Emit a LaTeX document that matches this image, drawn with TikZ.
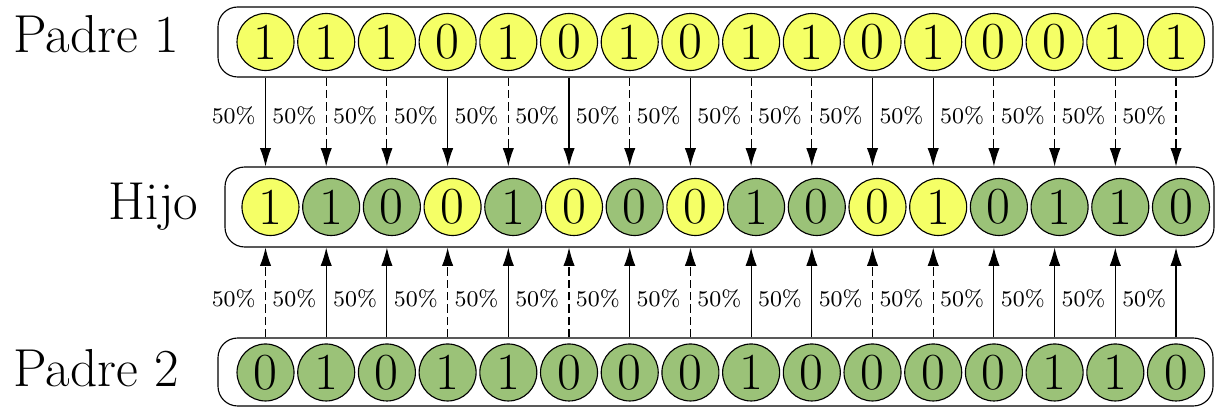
\documentclass[tikz,border=0pt]{standalone}
\usepackage{tikz}
\usetikzlibrary{arrows.meta, positioning}
\definecolor{genyellow}{RGB}{245,255,102}
\definecolor{gengreen}{RGB}{155,194,120}
\tikzset{
    rowbox/.style={rectangle, rounded corners=7pt, draw=black, minimum width=12.4375cm, inner sep=0pt},
    gene/.style={circle, draw=black, minimum size=0.7125cm, inner sep=0pt, font=\fontsize{18.5}{22}\selectfont},
    geneA/.style={gene, fill=genyellow},
    geneB/.style={gene, fill=gengreen},
    rowlabel/.style={anchor=base east, font=\fontsize{19}{23}\selectfont},
    arrow/.style={->, >={Latex[length=6.5pt,width=4pt]}},
    dashline/.style={dash pattern=on 3pt off 1.4pt},
    pct/.style={left, pos=0.43, font=\footnotesize}
}

\begin{document}
\begin{tikzpicture}
    \useasboundingbox (0,0) rectangle (15.1875,-5.0875);
    % frames of the three chromosomes
    \node (box1) [rowbox, minimum height=0.875cm] at (8.94375,-0.525) {};
    \node (hbox) [rowbox, minimum width=12.3625cm, minimum height=1cm] at (8.99375,-2.5875) {};
    \node (box2) [rowbox, minimum height=0.85cm] at (8.94375,-4.65) {};

    \node (lab1) [rowlabel] at ([xshift=-0.36cm,yshift=-0.1375cm]box1.west) {Padre 1};
    \node (labh) [rowlabel] at ([xshift=-0.2cm,yshift=-0.1625cm]hbox.west) {Hijo};
    \node (lab2) [rowlabel] at ([xshift=-0.36cm,yshift=-0.1875cm]box2.west) {Padre 2};

    % bit of padre 1 / bit of padre 2 / parent the child takes it from
    \foreach \pa/\pb/\s [count=\i from 0] in {1/0/1, 1/1/2, 1/0/2, 0/1/1, 1/1/2, 0/0/1, 1/0/2, 0/0/1,
                                              1/1/2, 1/0/2, 0/0/1, 1/0/1, 0/0/2, 0/1/2, 1/1/2, 1/0/2} {
        \ifnum\s=1 \def\hv{\pa}\def\hs{geneA}\def\up{solid}\def\dn{dashline}
        \else \def\hv{\pb}\def\hs{geneB}\def\up{dashline}\def\dn{solid}\fi
        \node (a\i) [geneA] at (3.319+0.75875*\i,-0.525) {\pa};
        \node (h\i) [\hs] at (3.381+0.75875*\i,-2.5875) {\hv};
        \node (b\i) [geneB] at (3.319+0.75875*\i,-4.656) {\pb};
        \draw [arrow, \up] (a\i |- box1.south) -- (a\i |- hbox.north) node[pct] {50\%};
        \draw [arrow, \dn] (b\i |- box2.north) -- (b\i |- hbox.south) node[pct] {50\%};
    }
\end{tikzpicture}
\end{document}
